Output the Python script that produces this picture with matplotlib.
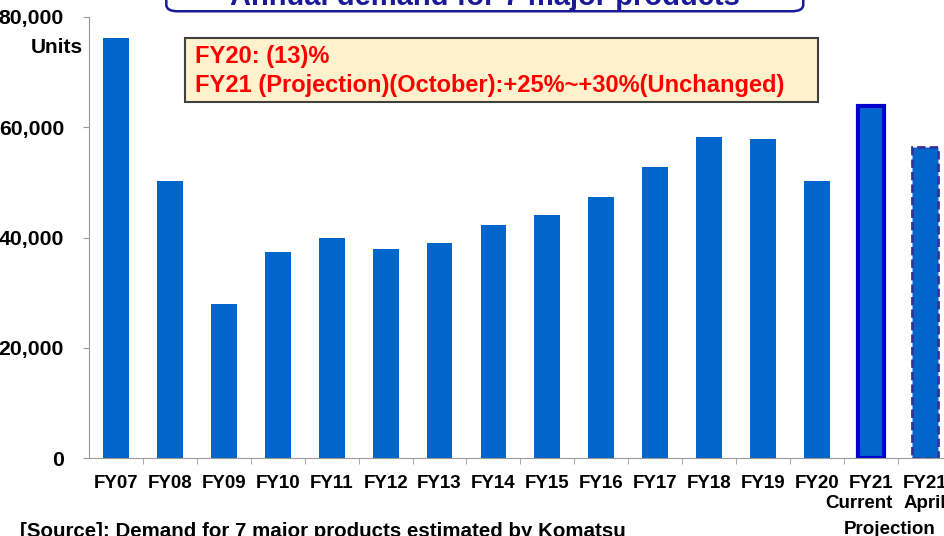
import matplotlib.pyplot as plt
from matplotlib.patches import FancyBboxPatch, Rectangle
import numpy as np

plt.rcParams['font.family'] = ['Liberation Sans', 'DejaVu Sans']
plt.rcParams['font.weight'] = 'bold'

# data
years = ['FY07', 'FY08', 'FY09', 'FY10', 'FY11', 'FY12', 'FY13', 'FY14',
         'FY15', 'FY16', 'FY17', 'FY18', 'FY19', 'FY20', 'FY21', 'FY21']
demand = [76200, 50200, 27900, 37400, 39900, 37900, 39000, 42300,
          44100, 47300, 52800, 58200, 57900, 50200, 63800, 56400]
sub_labels = ['Current', 'April']
note_lines = ['FY20: (13)%', 'FY21 (Projection)(October):+25%~+30%(Unchanged)']

fig = plt.figure(figsize=(9.45, 5.36), dpi=100)
ax = fig.add_axes([0.0942, 0.1455, 0.913, 0.8228])

x = np.arange(len(years))
bars = ax.bar(x, demand, width=0.48, color='#0066CC')
# FY21 current projection: solid blue outline
bars[14].set_edgecolor('#0000CC')
bars[14].set_linewidth(3)
# FY21 April projection: dashed outline
bars[15].set_edgecolor('#333399')
bars[15].set_linewidth(2)
bars[15].set_linestyle((0, (3, 1.5)))

ax.set_xlim(-0.5, len(years) - 0.5)
ax.set_ylim(0, 80000)
ax.set_yticks([0, 20000, 40000, 60000, 80000])
ax.set_yticklabels(['0', '20,000', '40,000', '60,000', '80,000'], fontsize=15.3, fontweight='bold')
ax.set_xticks(x)
ax.set_xticklabels(years, fontsize=13.5, fontweight='bold')
ax.set_xticks(np.arange(len(years)) + 0.5, minor=True)
ax.tick_params(axis='x', which='major', length=0, pad=12)
ax.tick_params(axis='x', which='minor', length=4, color='#999999', direction='out')
ax.tick_params(axis='y', length=4, color='#999999', pad=14)

# sub labels under the two FY21 bars
ax.text(13.77, -0.103, sub_labels[0], transform=ax.get_xaxis_transform(),
        fontsize=13.5, fontweight='bold', ha='center', va='center', clip_on=False)
ax.text(15.0, -0.103, sub_labels[1], transform=ax.get_xaxis_transform(),
        fontsize=13.5, fontweight='bold', ha='center', va='center', clip_on=False)
ax.text(14.35, -0.163, 'Projection', transform=ax.get_xaxis_transform(),
        fontsize=13.5, fontweight='bold', ha='center', va='center', clip_on=False)

for side in ['top', 'right']:
    ax.spines[side].set_visible(False)
ax.spines['left'].set_color('#999999')
ax.spines['bottom'].set_color('#999999')

fig.text(0.088, 0.912, 'Units', fontsize=15, fontweight='bold', ha='right', va='center')

# annotation box
fig.patches.append(Rectangle((0.1958, 0.810), 0.6698, 0.119, transform=fig.transFigure,
                             facecolor='#FFF2CC', edgecolor='#404040', linewidth=1.5))
fig.text(0.2063, 0.8937, note_lines[0], fontsize=17, fontweight='bold',
         color='#FF0000', ha='left', va='center')
fig.text(0.2063, 0.8396, note_lines[1], fontsize=17, fontweight='bold',
         color='#FF0000', ha='left', va='center')

# title box (cut at top)
title_box = FancyBboxPatch((0.176, 0.979), 0.674, 0.06,
                           boxstyle='round,pad=0,rounding_size=0.012',
                           transform=fig.transFigure, facecolor='white',
                           edgecolor='#1A1A99', linewidth=1.8, clip_on=False)
fig.patches.append(title_box)
fig.text(0.513, 0.991, 'Annual demand for 7 major products', fontsize=21,
         fontweight='bold', color='#1A1A99', ha='center', va='baseline')

fig.text(0.021, -0.002, '[Source]: Demand for 7 major products estimated by Komatsu',
         fontsize=14.8, fontweight='bold', ha='left', va='baseline')

fig.savefig('out.png', dpi=100)
